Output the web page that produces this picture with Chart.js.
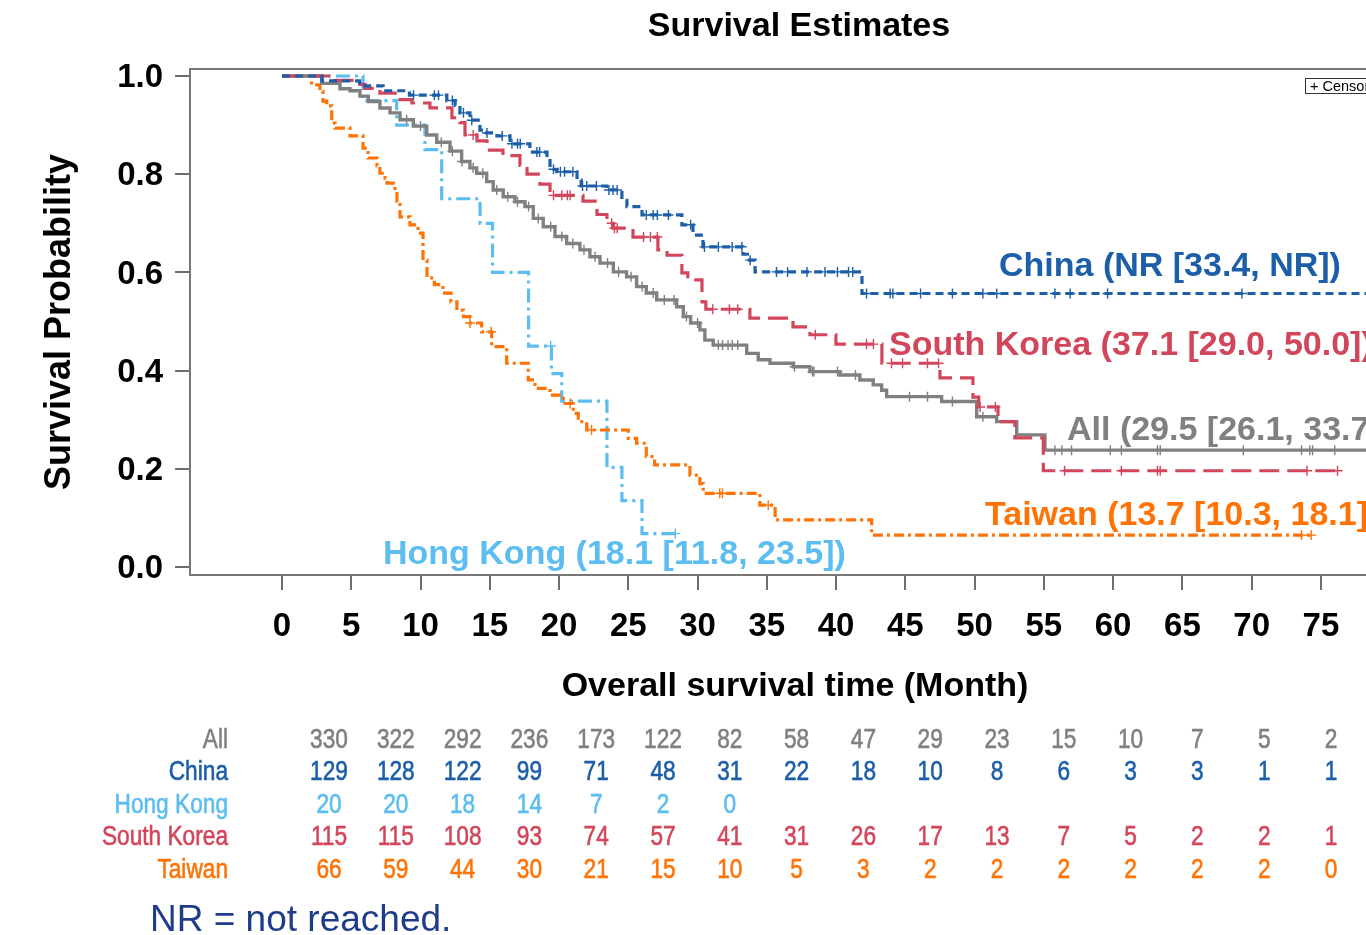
<!DOCTYPE html>
<html><head><meta charset="utf-8">
<script src="https://cdn.jsdelivr.net/npm/chart.js@4.4.1/dist/chart.umd.min.js"></script>
<style>
html,body{margin:0;padding:0;overflow:hidden;background:#fff;width:1366px;height:935px}
#wrap{position:relative;width:1420px;height:935px}
</style></head>
<body><div id="wrap"><canvas id="c" width="1420" height="935"></canvas></div>
<script>
// ---------- data ----------
const timeTicks = [0,5,10,15,20,25,30,35,40,45,50,55,60,65,70,75];
const probTicks = [0,0.2,0.4,0.6,0.8,1.0];

const allTimes = [0,2.87,4.19,4.91,5.63,6.23,7.07,7.80,8.52,9.48,10.45,11.17,12.13,12.97,13.57,14.05,14.78,15.25,15.97,16.82,17.54,18.14,18.86,19.71,20.55,21.51,22.23,22.96,23.92,24.88,25.60,26.3,27.05,28.49,28.97,29.5,30.17,30.53,31.13,33.55,34.38,35.23,36.91,38.11,40.28,41.72,42.68,43.29,43.65,47.62,50.15,51.59,53.04,55.08,79.5];
const allSurv  = [1,0.985,0.974,0.970,0.959,0.948,0.935,0.925,0.911,0.898,0.880,0.865,0.847,0.826,0.813,0.802,0.785,0.768,0.754,0.744,0.734,0.710,0.693,0.673,0.659,0.646,0.632,0.619,0.601,0.591,0.571,0.558,0.544,0.530,0.510,0.497,0.483,0.462,0.452,0.435,0.422,0.415,0.408,0.398,0.391,0.381,0.371,0.360,0.347,0.337,0.306,0.296,0.269,0.238,0.238];
const allCensor = [9.0,10.0,11.5,12.3,13.0,13.8,14.5,15.5,16.3,17.0,17.8,18.5,19.4,20.2,21.0,21.8,22.6,23.5,24.3,25.2,26.0,26.8,27.6,28.3,29.2,30.0,31.5,31.8,32.2,32.5,32.9,37.0,38.3,38.4,40.1,41.4,45.3,46.6,48.4,50.6,55.8,56.3,57.0,59.8,60.6,63.2,63.4,69.4,73.6,74.2,74.4,76.0];

const chinaTimes = [0,2.89,5.6,7.3,9.2,11.9,12.5,12.85,13.57,14.29,14.51,15.52,16.46,17.90,19.13,19.35,19.85,21.30,21.6,23.46,24.54,24.90,25.99,28.87,29.67,30.39,33.28,33.6,34.15,41.87,78.3];
const chinaSurv  = [1,0.99,0.98,0.97,0.961,0.95,0.94,0.925,0.91,0.89,0.884,0.878,0.862,0.845,0.835,0.81,0.805,0.788,0.776,0.768,0.747,0.734,0.717,0.697,0.676,0.652,0.637,0.625,0.601,0.557,0.557];
const chinaCensor = [9.5,11.0,11.3,12.3,13.1,13.7,14.8,15.9,16.6,17.0,17.2,18.4,18.6,19.6,20.1,20.4,21.0,21.7,22.0,22.7,23.6,23.9,24.2,26.3,26.8,27.1,27.9,29.5,30.5,31.5,32.5,33.2,33.8,35.7,36.5,37.9,39.2,40.1,40.9,41.2,42.2,43.9,44.1,46.1,48.4,50.6,51.6,55.8,56.9,59.6,69.3];

const hkTimes = [0,5.85,8.28,10.32,11.53,14.3,15.2,17.8,19.45,20.2,23.46,24.54,25.99,28.44];
const hkSurv  = [1,0.95,0.90,0.85,0.75,0.70,0.60,0.45,0.394,0.338,0.203,0.135,0.068,0.068];
const hkCensor = [19.4,28.4];

const skTimes = [0,3.83,5.63,5.99,7.07,8.30,9.38,10.68,12.27,12.85,13.21,14.08,14.80,15.95,17.18,17.69,18.62,19.35,21.73,22.74,23.46,23.89,25.34,27.14,27.8,28.87,29.3,30.32,30.6,33.78,36.89,38.11,39.99,43.31,47.50,49.88,50.3,51.69,52.91,54.96,76.37];
const skSurv  = [1,0.991,0.983,0.975,0.965,0.952,0.945,0.935,0.915,0.905,0.88,0.868,0.849,0.838,0.818,0.80,0.78,0.757,0.745,0.718,0.70,0.69,0.672,0.646,0.635,0.599,0.585,0.54,0.525,0.507,0.489,0.473,0.454,0.415,0.385,0.346,0.326,0.296,0.263,0.196,0.196];
const skCensor = [13.8,19.6,20.2,20.6,20.8,23.8,24.0,24.2,26.1,26.6,27.1,31.1,32.3,32.9,38.5,42.2,42.7,44.0,44.8,46.6,47.4,50.4,51.5,56.5,60.6,63.2,63.4,74.0,76.2];

const twTimes = [0,2.14,2.74,2.96,3.23,3.59,3.83,4.91,5.85,6.21,6.86,7.07,7.44,7.58,8.16,8.30,8.52,9.24,9.82,10.18,10.47,11.0,11.62,12.2,12.63,13.1,13.57,14.41,15.14,16.22,17.78,18.26,19.35,20.31,21.03,21.39,22.0,25.0,25.6,26.3,26.9,29.45,30.17,30.41,34.5,35.6,42.57,74.4];
const twSurv  = [1,0.982,0.969,0.949,0.939,0.904,0.894,0.878,0.853,0.833,0.817,0.802,0.792,0.782,0.766,0.745,0.713,0.697,0.68,0.625,0.589,0.575,0.558,0.54,0.523,0.51,0.497,0.479,0.449,0.415,0.381,0.364,0.350,0.333,0.313,0.296,0.279,0.262,0.252,0.225,0.208,0.187,0.170,0.150,0.126,0.096,0.065,0.065];
const twCensor = [13.57,15.1,20.8,22.35,31.6,31.8,35.1,73.6,74.3];

const riskGroups = ['All','China','Hong Kong','South Korea','Taiwan'];
const riskAll   = [330,322,292,236,173,122,82,58,47,29,23,15,10,7,5,2];
const riskChina = [129,128,122,99,71,48,31,22,18,10,8,6,3,3,1,1];
const riskHK    = [20,20,18,14,7,2,0];
const riskSK    = [115,115,108,93,74,57,41,31,26,17,13,7,5,2,2,1];
const riskTW    = [66,59,44,30,21,15,10,5,3,2,2,2,2,2,2,0];

const curveLabels = ['China (NR [33.4, NR])','South Korea (37.1 [29.0, 50.0])','All (29.5 [26.1, 33.7])','Taiwan (13.7 [10.3, 18.1])','Hong Kong (18.1 [11.8, 23.5])'];

// ---------- styles ----------
const C = {all:'#808080', china:'#1c5ea8', hk:'#5bbdf0', sk:'#d2465c', tw:'#ff7306', navy:'#1f3c8a'};
const BOLD = "'Liberation Sans', Arial, sans-serif";

function pts(times, surv){ return times.map((t,i)=>({x:t,y:surv[i]})); }
function levelAt(times, surv, t){ let v = surv[0]; for(let i=0;i<times.length;i++){ if(times[i] <= t) v = surv[i]; } return v; }
function censorPts(c, times, surv){ return c.map(t=>({x:t,y:levelAt(times,surv,t)})); }

function lineDs(label, times, surv, color, dash, w){
  return {label, data:pts(times,surv), borderColor:color, backgroundColor:color, borderWidth:w||3.2, borderDash:dash, stepped:'before', pointRadius:0, fill:false, borderCapStyle:'butt'};
}
function censorDs(label, c, times, surv, color){
  return {label, data:censorPts(c,times,surv), showLine:false, pointStyle:'cross', pointRadius:5, pointBorderWidth:1.4, borderColor:color, backgroundColor:color};
}

const datasets = [
  censorDs('China censored', chinaCensor, chinaTimes, chinaSurv, C.china),
  censorDs('South Korea censored', skCensor, skTimes, skSurv, C.sk),
  censorDs('All censored', allCensor, allTimes, allSurv, C.all),
  censorDs('Taiwan censored', twCensor, twTimes, twSurv, C.tw),
  censorDs('Hong Kong censored', hkCensor, hkTimes, hkSurv, C.hk),
  lineDs('China', chinaTimes, chinaSurv, C.china, [8,5]),
  lineDs('South Korea', skTimes, skSurv, C.sk, [20,8]),
  lineDs('All', allTimes, allSurv, C.all, [], 3.4),
  lineDs('Taiwan', twTimes, twSurv, C.tw, [10,4,3,4]),
  lineDs('Hong Kong', hkTimes, hkSurv, C.hk, [14,5,3,5])
];

function narrowText(ctx, text, x, y, align){
  ctx.save();
  ctx.translate(x, y);
  ctx.scale(0.84, 1);
  ctx.textAlign = align;
  ctx.lineWidth = 0.6;
  ctx.strokeStyle = ctx.fillStyle;
  ctx.fillText(text, 0, 0);
  ctx.strokeText(text, 0, 0);
  ctx.restore();
}

const overlay = {
  id:'overlay',
  afterDraw(chart){
    const ctx = chart.ctx, a = chart.chartArea;
    ctx.save();
    // frame
    ctx.strokeStyle = '#777'; ctx.lineWidth = 2;
    ctx.strokeRect(a.left, a.top, a.right - a.left, a.bottom - a.top);
    // title
    ctx.fillStyle = '#000'; ctx.textAlign = 'center'; ctx.textBaseline = 'middle';
    ctx.font = "bold 34px " + BOLD;
    ctx.fillText('Survival Estimates', 799, 27);
    // censored legend
    ctx.strokeStyle = '#333'; ctx.lineWidth = 1;
    ctx.strokeRect(1305.5, 78.5, 100, 15);
    ctx.textAlign = 'left'; ctx.font = "14.5px " + BOLD; ctx.fillStyle = '#000';
    ctx.fillText('+ Censored', 1310, 86.5);
    // curve labels
    const lab = [
      [curveLabels[0], C.china, 999, 267],
      [curveLabels[1], C.sk, 889, 346],
      [curveLabels[2], C.all, 1067, 431],
      [curveLabels[3], C.tw, 985, 516],
      [curveLabels[4], C.hk, 383, 555]
    ];
    ctx.font = "bold 34px " + BOLD;
    lab.forEach(l=>{ ctx.fillStyle = l[1]; ctx.fillText(l[0], l[2], l[3]); });
    // risk table
    const rows = [riskAll, riskChina, riskHK, riskSK, riskTW];
    const cols = [C.all, C.china, C.hk, C.sk, C.tw];
    const rowY = [741, 773, 806, 838, 871];
    ctx.font = "27px " + BOLD;
    rows.forEach((r,ri)=>{
      ctx.fillStyle = cols[ri];
      narrowText(ctx, riskGroups[ri], 228, rowY[ri], 'right');
      r.forEach((v,ci)=>{ narrowText(ctx, String(v), 329 + ci*66.8, rowY[ri], 'center'); });
    });
    // footnote
    ctx.textAlign = 'left'; ctx.fillStyle = C.navy; ctx.font = "37px " + BOLD;
    ctx.fillText('NR = not reached.', 150, 921);
    ctx.restore();
  }
};

new Chart(document.getElementById('c'), {
  type:'line',
  data:{datasets},
  plugins:[overlay],
  options:{
    responsive:false, animation:false, devicePixelRatio:1,
    layout:{padding:{left:0, top:69, right:20, bottom:229}},
    plugins:{legend:{display:false}, tooltip:{enabled:false}, title:{display:false}},
    scales:{
      x:{
        type:'linear', min:-6.64, max:80.71,
        afterBuildTicks:s=>{ s.ticks = timeTicks.map(v=>({value:v})); },
        afterFit:s=>{ s.height = 131; },
        border:{display:false},
        grid:{display:true, drawOnChartArea:false, drawTicks:true, tickLength:15, color:'#6e6e6e', lineWidth:2},
        ticks:{autoSkip:false, maxRotation:0, padding:17, color:'#000', font:{family:BOLD, size:33, weight:'bold'}},
        title:{display:true, text:'Overall survival time (Month)', color:'#000', font:{family:BOLD, size:34, weight:'bold'}, padding:{top:0,bottom:-1}}
      },
      y:{
        type:'linear', min:-0.0163, max:1.0143,
        afterBuildTicks:s=>{ s.ticks = probTicks.map(v=>({value:v})); },
        afterFit:s=>{ s.width = 190; },
        border:{display:false},
        grid:{display:true, drawOnChartArea:false, drawTicks:true, tickLength:15, color:'#6e6e6e', lineWidth:2},
        ticks:{padding:12, labelOffset:2, color:'#000', font:{family:BOLD, size:33, weight:'bold'}, callback:v=>Number(v).toFixed(1)},
        title:{display:true, text:'Survival Probability', color:'#000', font:{family:BOLD, size:36, weight:'bold'}, padding:{top:38,bottom:0}}
      }
    }
  }
});
</script>
</body></html>
